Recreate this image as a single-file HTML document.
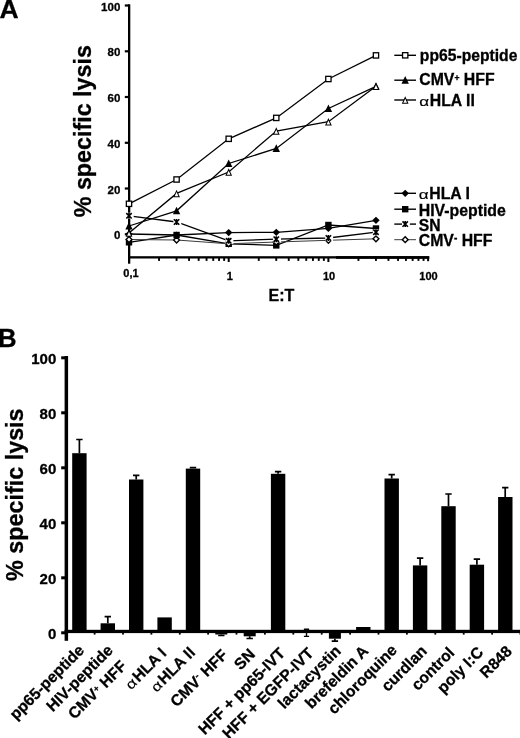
<!DOCTYPE html>
<html><head><meta charset="utf-8"><title>Figure</title>
<style>
html,body{margin:0;padding:0;background:#fff;}
body{width:520px;height:738px;overflow:hidden;}
svg{display:block;}
text{font-family:"Liberation Sans",Arial,sans-serif;font-weight:bold;fill:#000;stroke:#000;stroke-width:0.3px;}
.al{font-weight:normal;stroke-width:0.15px;}
</style></head><body>
<svg width="520" height="738" viewBox="0 0 520 738">
<rect x="0" y="0" width="520" height="738" fill="#fff"/>

<g id="panelA">
<text x="-0.5" y="18.3" font-size="26.5">A</text>
<text transform="translate(91.2,217.3) rotate(-90)" font-size="23.3">% specific lysis</text>
<rect x="128.0" y="4.3" width="2.3" height="259.4" fill="#000"/>
<rect x="128.0" y="256.2" width="301.2" height="2.3" fill="#000"/>
<rect x="336" y="256.2" width="93.2" height="2.6" fill="#000"/>
<rect x="124.8" y="4.4" width="4.5" height="2.2" fill="#000"/>
<text x="120.3" y="10.5" font-size="11.5" text-anchor="end">100</text>
<rect x="124.8" y="50.2" width="4.5" height="2.2" fill="#000"/>
<text x="120.3" y="56.3" font-size="11.5" text-anchor="end">80</text>
<rect x="124.8" y="95.9" width="4.5" height="2.2" fill="#000"/>
<text x="120.3" y="102.0" font-size="11.5" text-anchor="end">60</text>
<rect x="124.8" y="141.7" width="4.5" height="2.2" fill="#000"/>
<text x="120.3" y="147.8" font-size="11.5" text-anchor="end">40</text>
<rect x="124.8" y="187.4" width="4.5" height="2.2" fill="#000"/>
<text x="120.3" y="193.5" font-size="11.5" text-anchor="end">20</text>
<rect x="124.8" y="233.2" width="4.5" height="2.2" fill="#000"/>
<text x="120.3" y="239.3" font-size="11.5" text-anchor="end">0</text>
<rect x="128.0" y="257" width="2" height="5" fill="#000"/>
<rect x="158.1" y="257" width="1.9" height="3.9" fill="#000"/>
<rect x="175.6" y="257" width="1.9" height="3.9" fill="#000"/>
<rect x="188.1" y="257" width="1.9" height="3.9" fill="#000"/>
<rect x="197.7" y="257" width="1.9" height="3.9" fill="#000"/>
<rect x="205.6" y="257" width="1.9" height="3.9" fill="#000"/>
<rect x="212.3" y="257" width="1.9" height="3.9" fill="#000"/>
<rect x="218.1" y="257" width="1.9" height="3.9" fill="#000"/>
<rect x="223.2" y="257" width="1.9" height="3.9" fill="#000"/>
<rect x="227.7" y="257" width="2" height="5" fill="#000"/>
<rect x="257.8" y="257" width="1.9" height="3.9" fill="#000"/>
<rect x="275.3" y="257" width="1.9" height="3.9" fill="#000"/>
<rect x="287.8" y="257" width="1.9" height="3.9" fill="#000"/>
<rect x="297.4" y="257" width="1.9" height="3.9" fill="#000"/>
<rect x="305.3" y="257" width="1.9" height="3.9" fill="#000"/>
<rect x="312.0" y="257" width="1.9" height="3.9" fill="#000"/>
<rect x="317.8" y="257" width="1.9" height="3.9" fill="#000"/>
<rect x="322.9" y="257" width="1.9" height="3.9" fill="#000"/>
<rect x="327.4" y="257" width="2" height="5" fill="#000"/>
<rect x="357.5" y="257" width="1.9" height="3.9" fill="#000"/>
<rect x="375.0" y="257" width="1.9" height="3.9" fill="#000"/>
<rect x="387.5" y="257" width="1.9" height="3.9" fill="#000"/>
<rect x="397.1" y="257" width="1.9" height="3.9" fill="#000"/>
<rect x="405.0" y="257" width="1.9" height="3.9" fill="#000"/>
<rect x="411.7" y="257" width="1.9" height="3.9" fill="#000"/>
<rect x="417.5" y="257" width="1.9" height="3.9" fill="#000"/>
<rect x="422.6" y="257" width="1.9" height="3.9" fill="#000"/>
<rect x="427.1" y="257" width="2" height="4.2" fill="#000"/>
<text x="131" y="276.6" font-size="11" text-anchor="middle">0,1</text>
<text x="229.8" y="279.6" font-size="11" text-anchor="middle">1</text>
<text x="329" y="279.6" font-size="11" text-anchor="middle">10</text>
<text x="428.5" y="279.6" font-size="11" text-anchor="middle">100</text>
<text x="268.6" y="300.8" font-size="16">E:T</text>
<polyline points="129.0,234.0 176.6,235.0 228.7,232.6 276.3,232.3 328.4,228.4 376.0,220.3" fill="none" stroke="#000" stroke-width="1.3"/>
<path d="M129.00 230.40 L132.70 234.00 L129.00 237.60 L125.30 234.00 Z" fill="#000"/>
<path d="M176.57 231.40 L180.27 235.00 L176.57 238.60 L172.87 235.00 Z" fill="#000"/>
<path d="M228.70 229.00 L232.40 232.60 L228.70 236.20 L225.00 232.60 Z" fill="#000"/>
<path d="M276.27 228.70 L279.97 232.30 L276.27 235.90 L272.57 232.30 Z" fill="#000"/>
<path d="M328.40 224.80 L332.10 228.40 L328.40 232.00 L324.70 228.40 Z" fill="#000"/>
<path d="M375.97 216.70 L379.67 220.30 L375.97 223.90 L372.27 220.30 Z" fill="#000"/>
<polyline points="129.0,242.3 176.6,235.0 228.7,243.8 276.3,245.4 328.4,225.0 376.0,228.5" fill="none" stroke="#000" stroke-width="1.3"/>
<rect x="125.80" y="239.10" width="6.4" height="6.4" fill="#000"/>
<rect x="173.37" y="231.80" width="6.4" height="6.4" fill="#000"/>
<rect x="225.50" y="240.60" width="6.4" height="6.4" fill="#000"/>
<rect x="273.07" y="242.20" width="6.4" height="6.4" fill="#000"/>
<rect x="325.20" y="221.80" width="6.4" height="6.4" fill="#000"/>
<rect x="372.77" y="225.30" width="6.4" height="6.4" fill="#000"/>
<polyline points="129.0,239.5 176.6,240.0 228.7,243.8 276.3,242.0 328.4,240.3 376.0,238.8" fill="none" stroke="#3a3a3a" stroke-width="1"/>
<path d="M129.00 236.60 L131.90 239.50 L129.00 242.40 L126.10 239.50 Z" fill="#fff" stroke="#000" stroke-width="1.4"/>
<path d="M176.57 237.10 L179.47 240.00 L176.57 242.90 L173.67 240.00 Z" fill="#fff" stroke="#000" stroke-width="1.4"/>
<path d="M228.70 240.90 L231.60 243.80 L228.70 246.70 L225.80 243.80 Z" fill="#fff" stroke="#000" stroke-width="1.4"/>
<path d="M276.27 239.10 L279.17 242.00 L276.27 244.90 L273.37 242.00 Z" fill="#fff" stroke="#000" stroke-width="1.4"/>
<path d="M328.40 237.40 L331.30 240.30 L328.40 243.20 L325.50 240.30 Z" fill="#fff" stroke="#000" stroke-width="1.4"/>
<path d="M375.97 235.90 L378.87 238.80 L375.97 241.70 L373.07 238.80 Z" fill="#fff" stroke="#000" stroke-width="1.4"/>
<polyline points="129.0,215.8 176.6,222.0 228.7,240.8 276.3,239.2 328.4,238.0 376.0,232.2" fill="none" stroke="#000" stroke-width="1.3"/>
<rect x="125.80" y="212.70" width="7.9" height="6.2" fill="#fff"/>
<path d="M126.30 213.10 L131.70 218.50 M126.30 218.50 L131.70 213.10 M129.00 212.80 L129.00 218.80" stroke="#000" stroke-width="1.6" fill="none"/>
<rect x="173.37" y="218.90" width="7.9" height="6.2" fill="#fff"/>
<path d="M173.87 219.30 L179.27 224.70 M173.87 224.70 L179.27 219.30 M176.57 219.00 L176.57 225.00" stroke="#000" stroke-width="1.6" fill="none"/>
<rect x="225.50" y="237.70" width="7.9" height="6.2" fill="#fff"/>
<path d="M226.00 238.10 L231.40 243.50 M226.00 243.50 L231.40 238.10 M228.70 237.80 L228.70 243.80" stroke="#000" stroke-width="1.6" fill="none"/>
<rect x="273.07" y="236.10" width="7.9" height="6.2" fill="#fff"/>
<path d="M273.57 236.50 L278.97 241.90 M273.57 241.90 L278.97 236.50 M276.27 236.20 L276.27 242.20" stroke="#000" stroke-width="1.6" fill="none"/>
<rect x="325.20" y="234.90" width="7.9" height="6.2" fill="#fff"/>
<path d="M325.70 235.30 L331.10 240.70 M325.70 240.70 L331.10 235.30 M328.40 235.00 L328.40 241.00" stroke="#000" stroke-width="1.6" fill="none"/>
<rect x="372.77" y="229.10" width="7.9" height="6.2" fill="#fff"/>
<path d="M373.27 229.50 L378.67 234.90 M373.27 234.90 L378.67 229.50 M375.97 229.20 L375.97 235.20" stroke="#000" stroke-width="1.6" fill="none"/>
<polyline points="129.0,203.8 176.6,179.5 228.7,138.8 276.3,117.9 328.4,79.0 376.0,55.4" fill="none" stroke="#000" stroke-width="1.3"/>
<rect x="126.35" y="201.15" width="5.3" height="5.3" fill="#fff" stroke="#000" stroke-width="1.3"/>
<rect x="173.92" y="176.85" width="5.3" height="5.3" fill="#fff" stroke="#000" stroke-width="1.3"/>
<rect x="226.05" y="136.15" width="5.3" height="5.3" fill="#fff" stroke="#000" stroke-width="1.3"/>
<rect x="273.62" y="115.25" width="5.3" height="5.3" fill="#fff" stroke="#000" stroke-width="1.3"/>
<rect x="325.75" y="76.35" width="5.3" height="5.3" fill="#fff" stroke="#000" stroke-width="1.3"/>
<rect x="373.32" y="52.75" width="5.3" height="5.3" fill="#fff" stroke="#000" stroke-width="1.3"/>
<polyline points="129.0,226.0 176.6,210.8 228.7,163.5 276.3,148.4 328.4,108.5 376.0,86.3" fill="none" stroke="#000" stroke-width="1.3"/>
<path d="M129.00 221.90 L132.70 229.50 L125.30 229.50 Z" fill="#000"/>
<path d="M176.57 206.70 L180.27 214.30 L172.87 214.30 Z" fill="#000"/>
<path d="M228.70 159.40 L232.40 167.00 L225.00 167.00 Z" fill="#000"/>
<path d="M276.27 144.30 L279.97 151.90 L272.57 151.90 Z" fill="#000"/>
<path d="M328.40 104.40 L332.10 112.00 L324.70 112.00 Z" fill="#000"/>
<path d="M375.97 82.20 L379.67 89.80 L372.27 89.80 Z" fill="#000"/>
<polyline points="129.0,233.0 176.6,193.4 228.7,172.0 276.3,131.0 328.4,121.7 376.0,86.3" fill="none" stroke="#000" stroke-width="1.3"/>
<path d="M129.00 229.30 L132.40 236.80 L125.60 236.80 Z" fill="#000"/><path d="M129.00 231.70 L130.86 235.80 L127.14 235.80 Z" fill="#fff"/>
<path d="M176.57 189.70 L179.97 197.20 L173.17 197.20 Z" fill="#000"/><path d="M176.57 192.10 L178.43 196.20 L174.71 196.20 Z" fill="#fff"/>
<path d="M228.70 168.30 L232.10 175.80 L225.30 175.80 Z" fill="#000"/><path d="M228.70 170.70 L230.56 174.80 L226.84 174.80 Z" fill="#fff"/>
<path d="M276.27 127.30 L279.67 134.80 L272.87 134.80 Z" fill="#000"/><path d="M276.27 129.70 L278.13 133.80 L274.41 133.80 Z" fill="#fff"/>
<path d="M328.40 118.00 L331.80 125.50 L325.00 125.50 Z" fill="#000"/><path d="M328.40 120.40 L330.26 124.50 L326.54 124.50 Z" fill="#fff"/>
<path d="M375.97 82.60 L379.37 90.10 L372.57 90.10 Z" fill="#000"/><path d="M375.97 85.00 L377.83 89.10 L374.11 89.10 Z" fill="#fff"/>
<line x1="394.3" y1="55.3" x2="416" y2="55.3" stroke="#000" stroke-width="1.4"/>
<rect x="402.55" y="52.65" width="5.3" height="5.3" fill="#fff" stroke="#000" stroke-width="1.3"/>
<text x="419.8" y="60.7" font-size="15.7">pp65-peptide</text>
<line x1="394.3" y1="80.2" x2="416" y2="80.2" stroke="#000" stroke-width="1.4"/>
<path d="M405.20 76.10 L408.90 83.70 L401.50 83.70 Z" fill="#000"/>
<text x="419.3" y="84.6" font-size="15.8">CMV<tspan font-size="8.6" dy="-4">+</tspan><tspan dy="4"> HFF</tspan></text>
<line x1="394.3" y1="100.0" x2="416" y2="100.0" stroke="#000" stroke-width="1.4"/>
<path d="M405.20 96.30 L408.60 103.80 L401.80 103.80 Z" fill="#000"/><path d="M405.20 98.70 L407.06 102.80 L403.34 102.80 Z" fill="#fff"/>
<text transform="translate(419.30,105.60) scale(1.26,1)" font-size="13.6" class="al">α</text><text x="429.75" y="105.60" font-size="15.8">HLA II</text>
<line x1="394.3" y1="193.3" x2="416" y2="193.3" stroke="#000" stroke-width="1.4"/>
<path d="M405.20 189.70 L408.90 193.30 L405.20 196.90 L401.50 193.30 Z" fill="#000"/>
<text transform="translate(418.80,198.50) scale(1.26,1)" font-size="13.6" class="al">α</text><text x="429.25" y="198.50" font-size="15.8">HLA I</text>
<line x1="394.3" y1="209.2" x2="416" y2="209.2" stroke="#000" stroke-width="1.4"/>
<rect x="402.00" y="206.00" width="6.4" height="6.4" fill="#000"/>
<text x="418.7" y="216.1" font-size="15.85">HIV-peptide</text>
<line x1="394.3" y1="224.1" x2="416" y2="224.1" stroke="#000" stroke-width="1.4"/>
<rect x="402.00" y="221.00" width="7.9" height="6.2" fill="#fff"/>
<path d="M402.50 221.40 L407.90 226.80 M402.50 226.80 L407.90 221.40 M405.20 221.10 L405.20 227.10" stroke="#000" stroke-width="1.6" fill="none"/>
<text x="418.8" y="230.8" font-size="15.7">SN</text>
<line x1="394.3" y1="239.7" x2="416" y2="239.7" stroke="#3a3a3a" stroke-width="1"/>
<path d="M405.20 236.80 L408.10 239.70 L405.20 242.60 L402.30 239.70 Z" fill="#fff" stroke="#000" stroke-width="1.4"/>
<text x="418.8" y="246.1" font-size="15.8">CMV<tspan font-size="10" dy="-5.3">-</tspan><tspan dy="5.3"> HFF</tspan></text>
</g>
<g id="panelB">
<text x="-2.0" y="347.4" font-size="25.7">B</text>
<text transform="translate(23.2,581) rotate(-90)" font-size="23.35">% specific lysis</text>
<rect x="64.6" y="356" width="3.5" height="284.8" fill="#000"/>
<rect x="64.6" y="629.8" width="455.4" height="3.3" fill="#000"/>
<rect x="61.2" y="356.3" width="4" height="3" fill="#000"/>
<text x="56.3" y="364.4" font-size="15" text-anchor="end">100</text>
<rect x="61.2" y="411.3" width="4" height="3" fill="#000"/>
<text x="56.3" y="419.4" font-size="15" text-anchor="end">80</text>
<rect x="61.2" y="466.3" width="4" height="3" fill="#000"/>
<text x="56.3" y="474.4" font-size="15" text-anchor="end">60</text>
<rect x="61.2" y="521.3" width="4" height="3" fill="#000"/>
<text x="56.3" y="529.4" font-size="15" text-anchor="end">40</text>
<rect x="61.2" y="576.3" width="4" height="3" fill="#000"/>
<text x="56.3" y="584.4" font-size="15" text-anchor="end">20</text>
<rect x="61.2" y="631.3" width="4" height="3" fill="#000"/>
<text x="56.3" y="639.4" font-size="15" text-anchor="end">0</text>
<rect x="93.7" y="632" width="1.8" height="2.6" fill="#000"/>
<rect x="122.1" y="632" width="1.8" height="2.6" fill="#000"/>
<rect x="150.5" y="632" width="1.8" height="2.6" fill="#000"/>
<rect x="178.9" y="632" width="1.8" height="2.6" fill="#000"/>
<rect x="207.2" y="632" width="1.8" height="2.6" fill="#000"/>
<rect x="235.6" y="632" width="1.8" height="2.6" fill="#000"/>
<rect x="264.0" y="632" width="1.8" height="2.6" fill="#000"/>
<rect x="292.4" y="632" width="1.8" height="2.6" fill="#000"/>
<rect x="320.8" y="632" width="1.8" height="2.6" fill="#000"/>
<rect x="349.2" y="632" width="1.8" height="2.6" fill="#000"/>
<rect x="377.6" y="632" width="1.8" height="2.6" fill="#000"/>
<rect x="406.0" y="632" width="1.8" height="2.6" fill="#000"/>
<rect x="434.4" y="632" width="1.8" height="2.6" fill="#000"/>
<rect x="462.8" y="632" width="1.8" height="2.6" fill="#000"/>
<rect x="491.2" y="632" width="1.8" height="2.6" fill="#000"/>
<rect x="519.5" y="632" width="1.8" height="2.6" fill="#000"/>
<rect x="72.2" y="453.2" width="14.4" height="178.3" fill="#000"/>
<path d="M79.4 453.2 V439.5 M76.2 439.5 H82.6" stroke="#000" stroke-width="1.7" fill="none"/>
<rect x="100.6" y="623.3" width="14.4" height="8.2" fill="#000"/>
<path d="M107.8 623.3 V616.7 M104.6 616.7 H111.0" stroke="#000" stroke-width="1.7" fill="none"/>
<rect x="129.0" y="479.5" width="14.4" height="152.0" fill="#000"/>
<path d="M136.2 479.5 V475.3 M133.0 475.3 H139.4" stroke="#000" stroke-width="1.7" fill="none"/>
<rect x="157.4" y="617.4" width="14.4" height="14.1" fill="#000"/>
<rect x="185.8" y="468.6" width="14.4" height="162.9" fill="#000"/>
<path d="M193.0 468.6 V467.7 M189.8 467.7 H196.2" stroke="#000" stroke-width="1.7" fill="none"/>
<rect x="215.3" y="631.5" width="12" height="3.0" fill="#000"/>
<path d="M221.3 634.5 V635.5 M218.2 635.5 H224.5" stroke="#000" stroke-width="1.7" fill="none"/>
<rect x="243.7" y="631.5" width="12" height="4.8" fill="#000"/>
<path d="M249.7 636.3 V638.5 M246.5 638.5 H252.9" stroke="#000" stroke-width="1.7" fill="none"/>
<rect x="270.9" y="473.8" width="14.4" height="157.7" fill="#000"/>
<path d="M278.1 473.8 V471.7 M274.9 471.7 H281.3" stroke="#000" stroke-width="1.7" fill="none"/>
<path d="M303.9 629.3 H309.1 M306.5 629.3 V636.4 M303.9 636.4 H309.1" stroke="#000" stroke-width="1.4" fill="none"/>
<rect x="328.9" y="631.5" width="12" height="7.2" fill="#000"/>
<path d="M334.9 638.7 V641.2 M331.7 641.2 H338.1" stroke="#000" stroke-width="1.7" fill="none"/>
<rect x="356.1" y="627.0" width="14.4" height="4.5" fill="#000"/>
<rect x="384.5" y="478.5" width="14.4" height="153.0" fill="#000"/>
<path d="M391.7 478.5 V474.6 M388.5 474.6 H394.9" stroke="#000" stroke-width="1.7" fill="none"/>
<rect x="412.9" y="565.4" width="14.4" height="66.1" fill="#000"/>
<path d="M420.1 565.4 V558.2 M416.9 558.2 H423.3" stroke="#000" stroke-width="1.7" fill="none"/>
<rect x="441.3" y="506.2" width="14.4" height="125.3" fill="#000"/>
<path d="M448.5 506.2 V494.0 M445.3 494.0 H451.7" stroke="#000" stroke-width="1.7" fill="none"/>
<rect x="469.7" y="564.7" width="14.4" height="66.8" fill="#000"/>
<path d="M476.9 564.7 V559.2 M473.7 559.2 H480.1" stroke="#000" stroke-width="1.7" fill="none"/>
<rect x="498.1" y="497.0" width="14.4" height="134.5" fill="#000"/>
<path d="M505.2 497.0 V487.6 M502.1 487.6 H508.4" stroke="#000" stroke-width="1.7" fill="none"/>
<text transform="translate(85.20,651.20) rotate(-45)" font-size="15.75" text-anchor="end">pp65-peptide</text>
<text transform="translate(113.94,651.25) rotate(-45)" font-size="15.75" text-anchor="end">HIV-peptide</text>
<text transform="translate(127.58,667.05) rotate(-45)" font-size="15.75" text-anchor="end">CMV<tspan font-size="8.6" dy="-4">+</tspan><tspan dy="4"> HFF</tspan></text>
<g transform="translate(167.42,654.15) rotate(-45)"><text font-size="15.75" text-anchor="end">HLA I</text><text transform="translate(-51.58,0) scale(1.26,1)" font-size="13.6" class="al">α</text></g>
<g transform="translate(196.01,653.50) rotate(-45)"><text font-size="15.75" text-anchor="end">HLA II</text><text transform="translate(-55.96,0) scale(1.26,1)" font-size="13.6" class="al">α</text></g>
<text transform="translate(228.65,655.95) rotate(-45)" font-size="15.75" text-anchor="end">CMV<tspan font-size="10" dy="-5.3">-</tspan><tspan dy="5.3"> HFF</tspan></text>
<text transform="translate(255.94,655.30) rotate(-45)" font-size="15.75" text-anchor="end">SN</text>
<text transform="translate(286.13,654.20) rotate(-45)" font-size="15.75" text-anchor="end">HFF + pp65-IVT</text>
<text transform="translate(314.52,654.10) rotate(-45)" font-size="15.75" text-anchor="end">HFF + EGFP-IVT</text>
<text transform="translate(341.76,651.90) rotate(-45)" font-size="15.75" text-anchor="end">lactacystin</text>
<text transform="translate(369.35,651.85) rotate(-45)" font-size="15.75" text-anchor="end">brefeldin A</text>
<text transform="translate(397.99,651.15) rotate(-45)" font-size="15.75" text-anchor="end">chloroquine</text>
<text transform="translate(427.93,652.00) rotate(-45)" font-size="15.75" text-anchor="end">curdlan</text>
<text transform="translate(455.42,653.55) rotate(-45)" font-size="15.75" text-anchor="end">control</text>
<text transform="translate(484.36,653.30) rotate(-45)" font-size="15.75" text-anchor="end">poly I:C</text>
<text transform="translate(513.00,652.25) rotate(-45)" font-size="15.75" text-anchor="end">R848</text>
</g>
</svg></body></html>
